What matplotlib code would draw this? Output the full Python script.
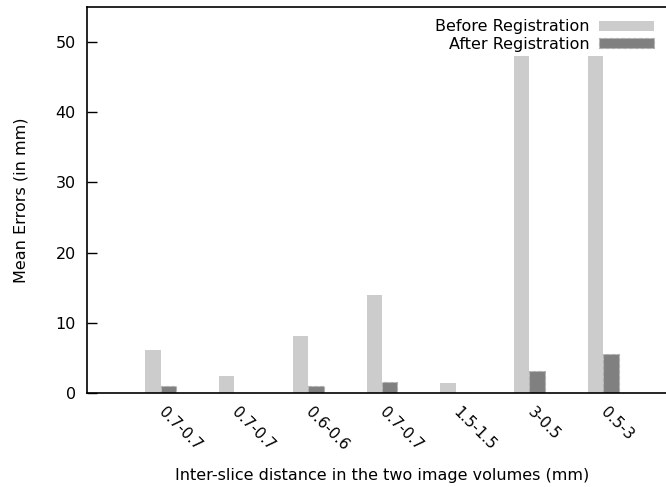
import numpy as np
import matplotlib.pyplot as plt

plt.rcParams['font.family'] = ['DejaVu Sans']

# ── Dane ──────────────────────────────────────────────────────────────────────
labels = ['0.7-0.7', '0.7-0.7', '0.6-0.6', '0.7-0.7', '1.5-1.5', '3-0.5', '0.5-3']
before = [6.1, 2.4, 8.1, 14.0, 1.4, 48.0, 48.0]
after = [0.95, 0.0, 1.05, 1.55, 0.0, 3.1, 5.6]

x = np.arange(1, len(labels) + 1)
w = 0.21
fs = 11.5

# ── Wykres ────────────────────────────────────────────────────────────────────
fig = plt.figure(figsize=(6.66, 4.87), dpi=100)
ax = fig.add_axes([87 / 666, 94 / 487, 590 / 666, 386 / 487])

ax.bar(x - w / 2, before, w, color='#cccccc', label='Before Registration')
ax.bar(x + w / 2, after, w, color='#808080', edgecolor='#b0b0b0',
       linestyle='--', linewidth=0.8, label='After Registration')

ax.set_xlim(0, 8)
ax.set_ylim(0, 55)
ax.set_yticks([0, 10, 20, 30, 40, 50])
ax.set_xticks(x)
ax.set_xticklabels(labels, rotation=-45, ha='left', va='center',
                   rotation_mode='anchor', fontsize=11)
ax.tick_params(axis='x', length=0, pad=12)
ax.tick_params(axis='y', direction='in', length=7, width=1, labelsize=fs, pad=8)

for side in ['left', 'bottom', 'top']:
    ax.spines[side].set_linewidth(1.2)
ax.spines['right'].set_visible(False)

ax.set_ylabel('Mean Errors (in mm)', fontsize=fs)
ax.yaxis.set_label_coords(-0.10, 0.5)
ax.set_xlabel('Inter-slice distance in the two image volumes (mm)', fontsize=fs)
ax.xaxis.set_label_coords(0.5, -0.195)

ax.legend(loc='upper right', bbox_to_anchor=(660 / 666, 474 / 487),
          bbox_transform=fig.transFigure, frameon=False, markerfirst=False,
          fontsize=fs, handlelength=3.4, handleheight=0.55, handletextpad=0.6,
          labelspacing=0.15, borderaxespad=0)

plt.savefig('out.png', dpi=100)
